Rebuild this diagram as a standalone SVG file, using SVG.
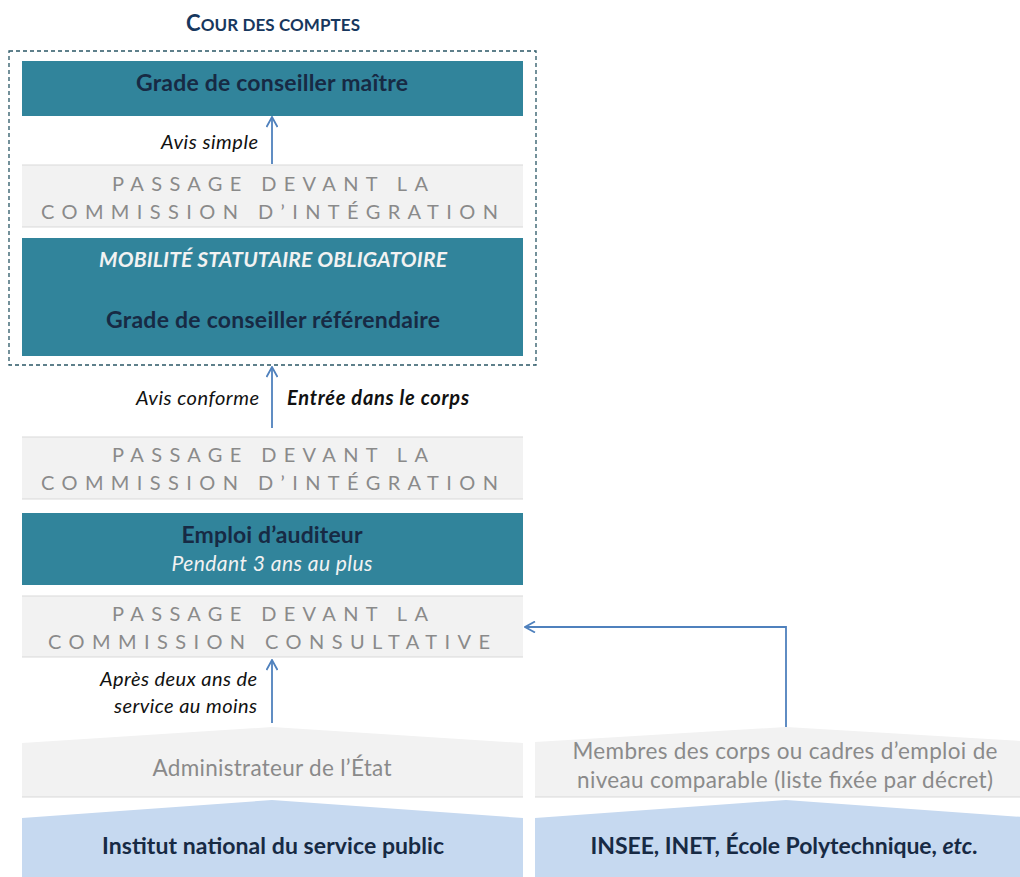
<svg xmlns="http://www.w3.org/2000/svg" width="1020" height="877" viewBox="0 0 1020 877">
<style>
  text { font-family: Lato, "Open Sans", "Liberation Sans", sans-serif; }
  .teal { fill: #31849b; }
  .gray { fill: #f2f2f2; }
  .blue { fill: #c6d9f0; }
  .edge { stroke: #d9d9d9; stroke-width: 1; }
  .dark { fill: #172a44; font-weight: bold; font-size: 23px; text-anchor: middle; }
  .white-it { fill: #f2f2f2; font-style: italic; font-size: 21px; text-anchor: middle; }
  .sp { fill: #8a8a8a; font-size: 20px; }
  .lbl { fill: #111; font-style: italic; font-size: 20px; text-anchor: end; }
  .gtxt { fill: #8a8a8a; font-size: 22.5px; text-anchor: middle; }
  .conn { stroke: #4f81bd; stroke-width: 1.8; fill: none; }
</style>
<defs>
  <marker id="open" viewBox="0 0 12 12" refX="11" refY="6" markerWidth="12" markerHeight="12" markerUnits="userSpaceOnUse" orient="auto">
    <path d="M1,0.5 L11,6 L1,11.5" fill="none" stroke="#4f81bd" stroke-width="1.8"/>
  </marker>
</defs>
<rect width="1020" height="877" fill="#ffffff"/>

<g id="title">
  <text x="273" y="31" text-anchor="middle" fill="#17375e" font-weight="bold" font-size="17" textLength="174"><tspan font-size="22">C</tspan>OUR DES COMPTES</text>
</g>

<g id="cour-frame">
  <rect x="9" y="51" width="527" height="314" fill="none" stroke="#2a5766" stroke-width="1.3" stroke-dasharray="4,3"/>
</g>

<g id="conseiller-maitre">
  <rect class="teal" x="22" y="61" width="501" height="55"/>
  <text class="dark" x="272" y="91" textLength="272">Grade de conseiller maître</text>
</g>

<g id="commission-integration-1">
  <rect class="gray" x="22" y="165" width="501" height="62"/>
  <line class="edge" x1="22" y1="227" x2="523" y2="227"/>
  <line class="edge" x1="22" y1="165" x2="523" y2="165"/>
  <text class="sp" x="112" y="191" textLength="316">PASSAGE DEVANT LA</text>
  <text class="sp" x="41" y="219" textLength="457">COMMISSION D’INTÉGRATION</text>
</g>

<g id="conseiller-referendaire">
  <rect class="teal" x="22" y="238" width="501" height="118"/>
  <text class="white-it" x="273" y="267" font-weight="bold" textLength="348">MOBILITÉ STATUTAIRE OBLIGATOIRE</text>
  <text class="dark" x="273" y="328" textLength="334">Grade de conseiller référendaire</text>
</g>

<g id="commission-integration-2">
  <rect class="gray" x="22" y="437" width="501" height="62"/>
  <line class="edge" x1="22" y1="499" x2="523" y2="499"/>
  <line class="edge" x1="22" y1="437" x2="523" y2="437"/>
  <text class="sp" x="112" y="462" textLength="316">PASSAGE DEVANT LA</text>
  <text class="sp" x="41" y="490" textLength="457">COMMISSION D’INTÉGRATION</text>
</g>

<g id="emploi-auditeur">
  <rect class="teal" x="22" y="513" width="501" height="72"/>
  <text class="dark" x="272" y="543" textLength="181">Emploi d’auditeur</text>
  <text class="white-it" x="272" y="571" textLength="201">Pendant 3 ans au plus</text>
</g>

<g id="commission-consultative">
  <rect class="gray" x="22" y="596" width="501" height="61"/>
  <line class="edge" x1="22" y1="657" x2="523" y2="657"/>
  <line class="edge" x1="22" y1="596" x2="523" y2="596"/>
  <text class="sp" x="112" y="621" textLength="316">PASSAGE DEVANT LA</text>
  <text class="sp" x="48" y="649" textLength="442">COMMISSION CONSULTATIVE</text>
</g>

<g id="administrateur">
  <polygon class="gray" points="22,743 272,727 523,743 523,797 22,797"/>
  <line class="edge" x1="22" y1="797" x2="523" y2="797"/>
  <text class="gtxt" x="272" y="776" textLength="239">Administrateur de l’État</text>
</g>

<g id="membres-corps">
  <polygon class="gray" points="535,742 786,727 1037,742 1037,797 535,797"/>
  <line class="edge" x1="535" y1="797" x2="1020" y2="797"/>
  <text class="gtxt" x="785" y="759" textLength="425">Membres des corps ou cadres d’emploi de</text>
  <text class="gtxt" x="785" y="788" textLength="416">niveau comparable (liste fixée par décret)</text>
</g>

<g id="insp">
  <polygon class="blue" points="22,818 272,800 523,818 523,877 22,877"/>
  <text class="dark" x="273" y="854" textLength="342">Institut national du service public</text>
</g>

<g id="insee">
  <polygon class="blue" points="535,818 786,800 1037,818 1037,877 535,877"/>
  <text class="dark" x="784" y="854" textLength="387">INSEE, INET, École Polytechnique, <tspan font-style="italic">etc</tspan>.</text>
</g>

<g id="connectors">
  <line class="conn" x1="272" y1="164" x2="272" y2="117" marker-end="url(#open)"/>
  <line class="conn" x1="272" y1="428" x2="272" y2="367" marker-end="url(#open)"/>
  <line class="conn" x1="272" y1="723" x2="272" y2="660" marker-end="url(#open)"/>
  <polyline class="conn" points="786,727 786,627 525,627" marker-end="url(#open)"/>
</g>

<g id="labels">
  <text class="lbl" x="258" y="149" textLength="97">Avis simple</text>
  <text class="lbl" x="259" y="405" textLength="123">Avis conforme</text>
  <text x="287" y="405" fill="#111" font-style="italic" font-weight="bold" font-size="20" textLength="182">Entrée dans le corps</text>
  <text class="lbl" x="257" y="686" textLength="157">Après deux ans de</text>
  <text class="lbl" x="257" y="713" textLength="143">service au moins</text>
</g>
</svg>
